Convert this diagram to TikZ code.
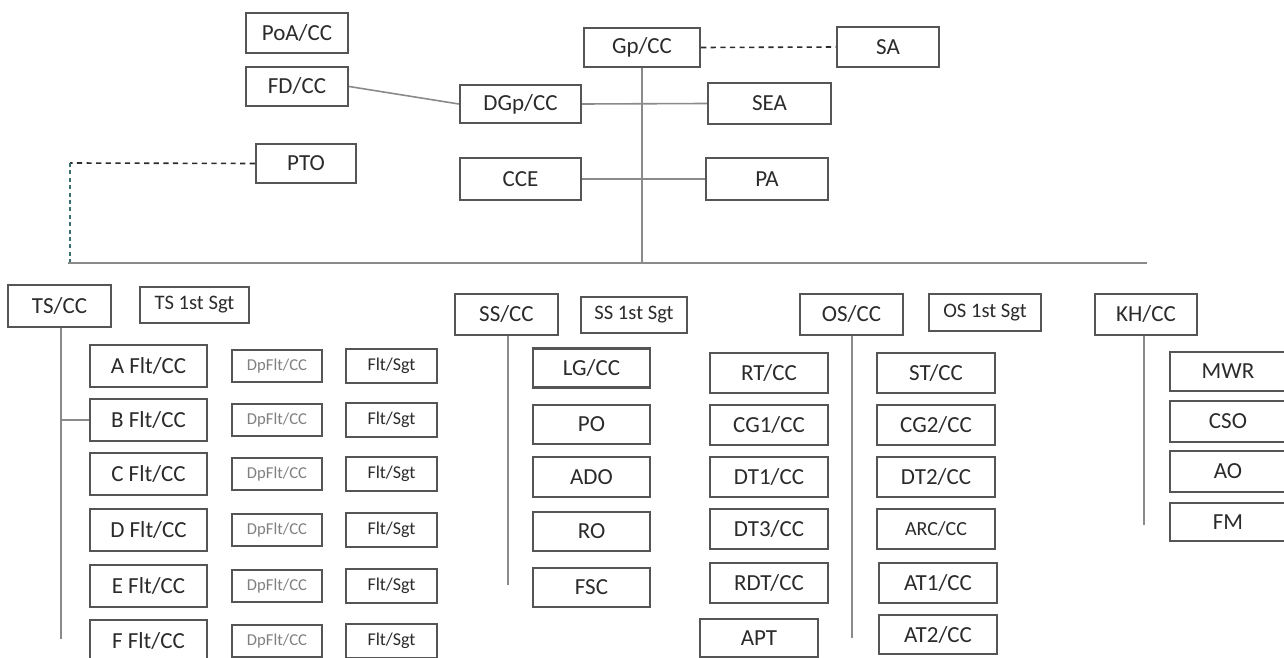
\documentclass[tikz,border=0pt]{standalone}
\usepackage{fontspec}
\setmainfont{Carlito}
\definecolor{boxc}{HTML}{555555}
\definecolor{linec}{HTML}{8A8A8A}
\definecolor{txtc}{HTML}{2B2B2B}
\definecolor{dpc}{HTML}{808080}
\definecolor{tealc}{HTML}{3A6E70}
\begin{document}
\begin{tikzpicture}[x=0.5pt,y=-0.5pt,
  bx/.style={draw=boxc, line width=1.1pt, inner sep=0pt, text=txtc, fill=white,
             font=\fontsize{11.5}{13}\selectfont},
  sz/.style 2 args={minimum width=#1pt, minimum height=#2pt},
  sgt/.style={font=\fontsize{10.3}{12}\selectfont},
  fsgt/.style={font=\fontsize{9}{11}\selectfont},
  dpf/.style={font=\fontsize{8.3}{10}\selectfont, text=dpc},
  arc/.style={font=\fontsize{10}{12}\selectfont},
  conn/.style={draw=linec, line width=0.8pt},
  dsh/.style={draw=txtc, line width=0.8pt, dash pattern=on 2.6pt off 2.2pt},
  tdsh/.style={draw=tealc, line width=0.9pt, dash pattern=on 2pt off 1.7pt}]
\useasboundingbox (0,0) rectangle (1284,658);
% top part
\node[bx, sz={51}{20}] (poa) at (297,33) {PoA/CC};
\node[bx, sz={51}{19.5}] (fd) at (297,86.5) {FD/CC};
\node[bx, sz={50}{19.5}] (pto) at (306,163.5) {PTO};
\node[bx, sz={58}{19.5}] (gp) at (642,47.5) {Gp/CC};
\node[bx, sz={51}{20}] (sa) at (888,47) {SA};
\node[bx, sz={60.5}{19}] (dgp) at (520.5,104) {DGp/CC};
\node[bx, sz={61.5}{20.5}] (sea) at (769.5,103.5) {SEA};
\node[bx, sz={60.5}{21}] (cce) at (520.5,179) {CCE};
\node[bx, sz={61}{21}] (pa) at (767,179) {PA};
\coordinate (hl) at (68,263);
\coordinate (hr) at (1147,263);
\coordinate (pc) at (70,163);
\coordinate (pb) at (70,262);
\coordinate (gb) at (642,263);
% TS
\node[bx, sz={51.5}{21}] (ts) at (59.5,306) {TS/CC};
\node[bx, sgt, sz={54.5}{18}] (ts1) at (194.5,305) {TS 1st Sgt};
\foreach \n/\y in {A/366,B/420,C/474,D/530,E/586,F/641}{
  \node[bx, sz={58.5}{21}] (flt\n) at (148.5,\y) {\n\ Flt/CC};
  \node[bx, dpf, sz={45}{16}] (dp\n) at (277,\y) {DpFlt/CC};
  \node[bx, fsgt, sz={45.5}{17}] (fs\n) at (391.5,\y) {Flt/Sgt};
}
\coordinate (tsb) at (61,639);
% SS
\node[bx, sz={51.5}{20.5}] (ss) at (506.5,314.5) {SS/CC};
\node[bx, sgt, sz={53}{18}] (ss1) at (634,315) {SS 1st Sgt};
\coordinate (ssb) at (508,585);
\node[bx, sz={58.5}{19.5}] (lg) at (591.5,368) {LG/CC};
\node[bx, sz={58.5}{19.5}] (po) at (591.5,424.5) {PO};
\node[bx, sz={58.5}{20}] (ado) at (591.5,477) {ADO};
\node[bx, sz={58.5}{19.5}] (ro) at (591.5,531.5) {RO};
\node[bx, sz={58.5}{19.5}] (fsc) at (591.5,587.5) {FSC};
% OS
\node[bx, sz={59}{20}] (rt) at (769,373) {RT/CC};
\node[bx, sz={59}{20}] (cg1) at (769,425) {CG1/CC};
\node[bx, sz={59}{20}] (dt1) at (769,477) {DT1/CC};
\node[bx, sz={59}{20}] (dt3) at (769,529) {DT3/CC};
\node[bx, sz={59}{20}] (rdt) at (769,583) {RDT/CC};
\node[bx, sz={59}{19}] (apt) at (759,638) {APT};
\node[bx, sz={51.5}{20.5}] (os) at (851.5,314.5) {OS/CC};
\node[bx, sgt, sz={56}{18.5}] (os1) at (985,312.5) {OS 1st Sgt};
\coordinate (osb) at (852,638);
\node[bx, sz={59}{20}] (st) at (936,373) {ST/CC};
\node[bx, sz={59}{20}] (cg2) at (936,425) {CG2/CC};
\node[bx, sz={59}{20}] (dt2) at (936,477) {DT2/CC};
\node[bx, arc, sz={59}{20}] (arcn) at (936,529) {ARC/CC};
\node[bx, sz={59}{20}] (at1) at (938,583) {AT1/CC};
\node[bx, sz={59}{19.5}] (at2) at (938,634.5) {AT2/CC};
% KH
\node[bx, sz={51}{20.5}] (kh) at (1146,314.5) {KH/CC};
\coordinate (khb) at (1144,525);
\node[bx, sz={58}{19.5}] (mwr) at (1228,371.5) {MWR};
\node[bx, sz={58}{20.5}] (cso) at (1228,421.5) {CSO};
\node[bx, sz={58}{20.5}] (ao) at (1228,471.5) {AO};
\node[bx, sz={58}{19}] (fm) at (1228,522) {FM};
% connectors
\begin{scope}[on background layer/.style={}]
\draw[conn] (fd.east) -- (dgp.west);
\draw[conn] (dgp.east) -- (sea.west);
\draw[conn] (cce.east) -- (pa.west);
\draw[conn] (gp.south) -- (gb);
\draw[conn] (hl) -- (hr);
\draw[dsh] (pto.west) -- (pc);
\draw[tdsh] (pc) -- (pb);
\draw[dsh] (gp.east) -- (sa.west);
\draw[conn] (ts.south -| tsb) -- (tsb);
\draw[conn] (fltB.west) -- (fltB.west -| tsb);
\draw[conn] (ss.south -| ssb) -- (ssb);
\draw[conn] (os.south -| osb) -- (osb);
\draw[conn] (kh.south -| khb) -- (khb);
\end{scope}
\end{tikzpicture}
\end{document}
